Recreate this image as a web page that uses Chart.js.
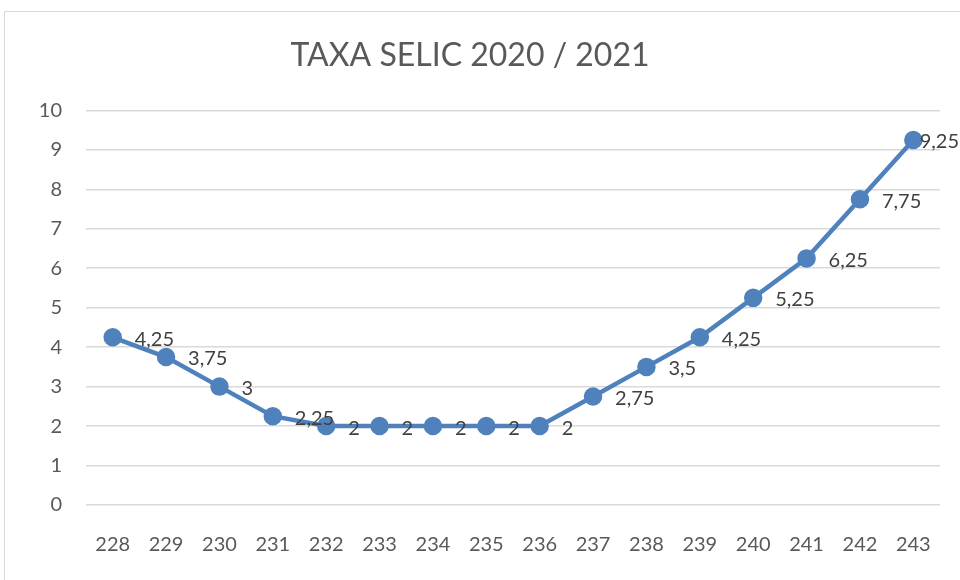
<!DOCTYPE html>
<html>
<head>
<meta charset="utf-8">
<script src="https://cdn.jsdelivr.net/npm/chart.js@4"></script>
<style>
  body { margin: 0; background: #fff; }
  #wrap { width: 960px; height: 580px; }
</style>
</head>
<body>
<div id="wrap"><canvas id="selic" width="960" height="580"></canvas></div>
<script>
// Taxa Selic por reunião do Copom
const reunioes = ['228', '229', '230', '231', '232', '233', '234', '235', '236', '237', '238', '239', '240', '241', '242', '243'];
const taxas = [4.25, 3.75, 3, 2.25, 2, 2, 2, 2, 2, 2.75, 3.5, 4.25, 5.25, 6.25, 7.75, 9.25];
const ticksY = [0, 1, 2, 3, 4, 5, 6, 7, 8, 9, 10];

const fonte = 'Lato, "Open Sans", sans-serif';

// moldura cinza em volta do gráfico
const moldura = {
    id: 'moldura',
    beforeDraw(chart) {
        const ctx = chart.ctx;
        ctx.save();
        ctx.strokeStyle = '#d9d9d9';
        ctx.lineWidth = 1;
        ctx.strokeRect(4.5, 11.5, 1000, 1000);
        ctx.restore();
    }
};

// rótulos de dados à direita de cada ponto
const rotulos = {
    id: 'rotulos',
    afterDatasetsDraw(chart) {
        const ctx = chart.ctx;
        const meta = chart.getDatasetMeta(0);
        ctx.save();
        ctx.font = '20px ' + fonte;
        ctx.fillStyle = '#404040';
        ctx.textAlign = 'left';
        ctx.textBaseline = 'middle';
        meta.data.forEach((pt, i) => {
            const txt = String(taxas[i]).replace('.', ',');
            const w = ctx.measureText(txt).width;
            // se não couber, encosta na borda direita
            const x = Math.min(pt.x + 22, chart.width - w - 1);
            ctx.fillText(txt, x, pt.y + 2);
        });
        ctx.restore();
    }
};

new Chart(document.getElementById('selic'), {
    type: 'line',
    data: {
        labels: reunioes,
        datasets: [{
            data: taxas,
            borderColor: '#4f81bd',
            backgroundColor: '#4f81bd',
            borderWidth: 4.5,
            pointRadius: 7,
            pointHoverRadius: 7,
            pointBackgroundColor: '#4f81bd',
            pointBorderColor: '#4f81bd',
            tension: 0
        }]
    },
    options: {
        responsive: false,
        animation: false,
        layout: { padding: { top: 0, right: 20, bottom: 0, left: 0 } },
        plugins: {
            legend: { display: false },
            tooltip: { enabled: false },
            title: {
                display: true,
                text: 'TAXA SELIC 2020 / 2021',
                color: '#595959',
                font: { family: fonte, size: 32, weight: 'normal' },
                padding: { top: 36, bottom: 36 }
            }
        },
        scales: {
            x: {
                offset: true,
                grid: { display: false, drawTicks: false },
                border: { display: false },
                ticks: {
                    color: '#595959',
                    font: { family: fonte, size: 20 },
                    padding: 28,
                    maxRotation: 0
                },
                afterFit(scale) { scale.height = 75; }
            },
            y: {
                min: 0,
                max: 10,
                afterBuildTicks(scale) {
                    scale.ticks = ticksY.map(v => ({ value: v }));
                },
                grid: { color: '#d9d9d9', lineWidth: 1.5, drawTicks: false },
                border: { display: false },
                ticks: {
                    color: '#595959',
                    font: { family: fonte, size: 20 },
                    padding: 24
                },
                afterFit(scale) { scale.width = 86; }
            }
        }
    },
    plugins: [moldura, rotulos]
});
</script>
</body>
</html>
